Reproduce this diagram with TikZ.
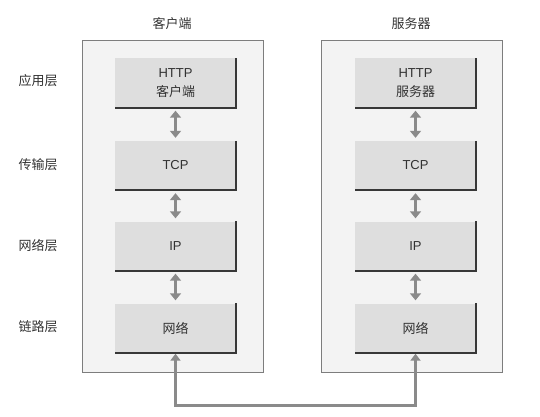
\documentclass[tikz,border=0pt]{standalone}
\usepackage{fontspec}
\setmainfont{Liberation Sans}
\newfontfamily\cjk{Noto Sans CJK SC}
\usepackage{tikz}
\usetikzlibrary{arrows.meta,positioning}
\definecolor{panelgray}{RGB}{243,243,243}
\definecolor{panelline}{RGB}{125,125,125}
\definecolor{boxgray}{RGB}{222,222,222}
\definecolor{edgegray}{RGB}{55,55,55}
\definecolor{arrowgray}{RGB}{138,138,138}
\definecolor{textgray}{RGB}{50,50,50}

\begin{document}
\begin{tikzpicture}[x=1pt, y=-1pt, font=\fontsize{13}{19}\selectfont, text=textgray,
    panel/.style={draw=panelline, line width=0.9pt, fill=panelgray, minimum width=181pt, minimum height=332pt},
    layerbox/.style={fill=boxgray, minimum width=121pt, minimum height=49pt, align=center},
    boxedge/.style={draw=edgegray, line width=2pt},
    twoway/.style={draw=arrowgray, line width=3pt, {Triangle[length=7pt,width=11pt]}-{Triangle[length=7pt,width=11pt]}, shorten <=3pt, shorten >=3pt},
    busline/.style={draw=arrowgray, line width=2.5pt, {Triangle[length=7pt,width=10pt]}-{Triangle[length=7pt,width=10pt]}, shorten <=1pt, shorten >=1pt}]
        \useasboundingbox (0,0) rectangle (540,417);

        % two hosts
        \node[panel] (cpanel) at (172.5,206) {};
        \node[panel] (spanel) at (411.5,206) {};
        \node (ctitle) at (172,24) {\cjk 客户端};
        \node (stitle) at (411,24) {\cjk 服务器};

        % layer names
        \node (lapp) at (38,81) {\cjk 应用层};
        \node (ltrans) at (38,165) {\cjk 传输层};
        \node (lnet) at (38,246) {\cjk 网络层};
        \node (llink) at (38,327) {\cjk 链路层};

        % client stack
        \node[layerbox] (ca) at (175.5,83) {HTTP\\{\cjk 客户端}};
        \node[layerbox] (ct) at (175.5,165.5) {TCP};
        \node[layerbox] (ci) at (175.5,246) {IP};
        \node[layerbox] (cn) at (175.5,328) {\cjk 网络};

        % server stack
        \node[layerbox] (sa) at (415.5,83) {HTTP\\{\cjk 服务器}};
        \node[layerbox] (st) at (415.5,165.5) {TCP};
        \node[layerbox] (si) at (415.5,246) {IP};
        \node[layerbox] (sn) at (415.5,328) {\cjk 网络};

        \foreach \b in {ca,ct,ci,cn,sa,st,si,sn}
            \draw[boxedge] (\b.north east) -- (\b.south east) -- (\b.south west);

        \draw[twoway] (ca) -- (ct);
        \draw[twoway] (ct) -- (ci);
        \draw[twoway] (ci) -- (cn);
        \draw[twoway] (sa) -- (st);
        \draw[twoway] (st) -- (si);
        \draw[twoway] (si) -- (sn);

        \draw[busline] (cn.south) -- ++(0,53) -| (sn.south);
    \end{tikzpicture}
\end{document}
